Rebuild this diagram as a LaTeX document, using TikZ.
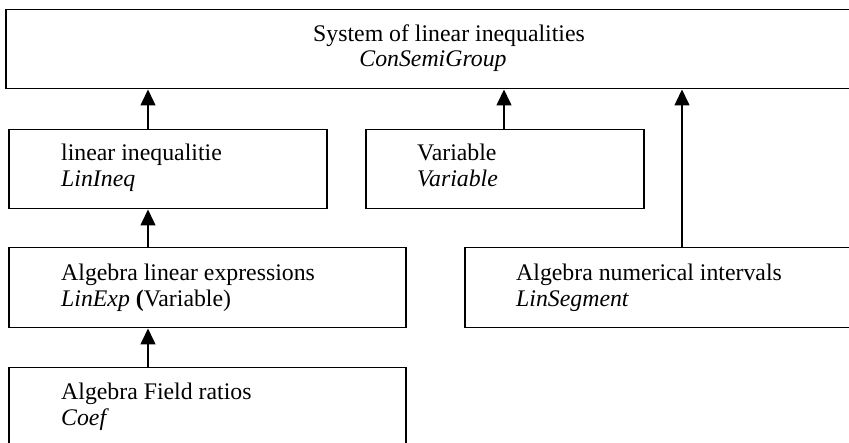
\documentclass[tikz,border=0pt]{standalone}
\usepackage{fontspec}
\setmainfont{Liberation Serif}
\usetikzlibrary{arrows.meta}
\tikzset{
  box/.style={draw, line width=1.5pt, rectangle, inner sep=0pt, anchor=north west},
  txt/.style={anchor=base west, inner sep=0pt, font=\fontsize{23.8}{27}\selectfont},
  ctxt/.style={anchor=base, inner sep=0pt, font=\fontsize{23.8}{27}\selectfont},
  arr/.style={line width=1.6pt, -{Triangle[width=15pt,length=16pt]}}
}
\begin{document}
\begin{tikzpicture}[x=1pt,y=-1pt]
\useasboundingbox (0,0) rectangle (849,443);
\clip (0,0) rectangle (849,443);
% boxes
\node[box, minimum width=860pt, minimum height=79pt] (top) at (5,9) {};
\node[box, minimum width=318pt, minimum height=79pt] (lin) at (8,129) {};
\node[box, minimum width=278pt, minimum height=79pt] (var) at (365,129) {};
\node[box, minimum width=397pt, minimum height=80pt] (exp) at (8,247) {};
\node[box, minimum width=400pt, minimum height=80pt] (seg) at (464,247) {};
\node[box, minimum width=397pt, minimum height=100pt] (coef) at (8,367) {};
% texts
\node[ctxt] (t1) at (449,42) {System of linear inequalities};
\node[ctxt] (t2) at (433,67) {\textit{ConSemiGroup}};
\node[txt] (l1) at (61,161) {linear inequalitie};
\node[txt] (l2) at (61,187) {\textit{LinIneq}};
\node[txt] (v1) at (417,161) {Variable};
\node[txt] (v2) at (417,187) {\textit{Variable}};
\node[txt] (e1) at (61,281) {Algebra linear expressions};
\node[txt] (e2) at (61,307) {\textit{LinExp} \textbf{(}Variable)};
\node[txt] (s1) at (516,281) {Algebra numerical intervals};
\node[txt] (s2) at (516,307) {\textit{LinSegment}};
\node[txt] (c1) at (61,400) {Algebra Field ratios};
\node[txt] (c2) at (61,426) {\textit{Coef}};
% arrows
\coordinate (xa) at (148,0);
\coordinate (xb) at (504,0);
\coordinate (xc) at (682,0);
\draw[arr] (lin.north -| xa) -- (top.south -| xa);
\draw[arr] (var.north -| xb) -- (top.south -| xb);
\draw[arr] (seg.north -| xc) -- (top.south -| xc);
\draw[arr] (exp.north -| xa) -- (lin.south -| xa);
\draw[arr] (coef.north -| xa) -- (exp.south -| xa);
\end{tikzpicture}
\end{document}
